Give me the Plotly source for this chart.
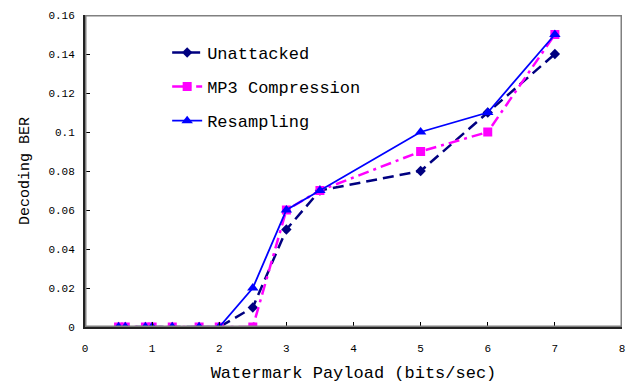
import plotly.graph_objects as go

payload = [0.5, 0.6, 0.9, 1.0, 1.3, 1.7, 2.0, 2.5, 3.0, 3.5, 5.0, 6.0, 7.0]
unattacked = [0, 0, 0, 0, 0, 0, 0, 0.01, 0.05, 0.07, 0.08, 0.11, 0.14]
mp3 = [0, 0, 0, 0, 0, 0, 0, 0.0, 0.06, 0.07, 0.09, 0.10, 0.15]
resampling = [0, 0, 0, 0, 0, 0, 0, 0.02, 0.06, 0.07, 0.10, 0.11, 0.15]

x_ticks = [0, 1, 2, 3, 4, 5, 6, 7, 8]
y_ticks = [0, 0.02, 0.04, 0.06, 0.08, 0.1, 0.12, 0.14, 0.16]
y_labels = ["0", "0.02", "0.04", "0.06", "0.08", "0.1", "0.12", "0.14", "0.16"]

X_RANGE = [0, 8]
Y_RANGE = [0, 0.16]

FONT = "Liberation Mono"

fig = go.Figure()
fig.add_trace(go.Scatter(x=payload, y=unattacked, name="Unattacked", mode="lines+markers",
                         legendgroup="a",
                         line=dict(color="#000080", width=2.5, dash="11px,6px"),
                         marker=dict(symbol="diamond", size=8, color="#000080")))
fig.add_trace(go.Scatter(x=payload, y=mp3, name="MP3 Compression", mode="lines+markers",
                         legendgroup="b",
                         line=dict(color="#FF00FF", width=2.5, dash="11px,5px,3px,5px"),
                         marker=dict(symbol="square", size=9, color="#FF00FF")))
fig.add_trace(go.Scatter(x=payload, y=resampling, name="Resampling", mode="lines+markers",
                         legendgroup="c",
                         line=dict(color="#0000FF", width=1.8),
                         marker=dict(symbol="triangle-up", size=10, color="#0000FF")))

# grey frame around the plot area, in data coordinates
fig.add_shape(type="rect", xref="x", yref="y",
              x0=X_RANGE[0], x1=X_RANGE[1], y0=Y_RANGE[0], y1=Y_RANGE[1],
              line=dict(color="#808080", width=3), fillcolor="rgba(0,0,0,0)",
              layer="above")

fig.update_layout(
    width=629, height=383,
    margin=dict(l=85, r=7, t=15, b=56),
    paper_bgcolor="white", plot_bgcolor="white",
    font=dict(family=FONT, color="black"),
    showlegend=True,
    legend=dict(x=0.153, y=0.936, xanchor="left", yanchor="top",
                bgcolor="rgba(0,0,0,0)", font=dict(family=FONT, size=17),
                tracegroupgap=9),
    xaxis=dict(range=X_RANGE, tickvals=x_ticks, ticks="inside", ticklen=5,
               tickcolor="black", showgrid=False, zeroline=False,
               showline=True, linecolor="#222222", linewidth=2,
               tickfont=dict(family=FONT, size=11), automargin=False,
               ticklabelstandoff=10, layer="above traces",
               title=dict(text="Watermark Payload (bits/sec)", font=dict(family=FONT, size=17))),
    yaxis=dict(range=Y_RANGE, tickvals=y_ticks, ticktext=y_labels, ticks="inside",
               ticklen=5, tickcolor="black", showgrid=False, zeroline=False,
               showline=True, linecolor="#222222", linewidth=2,
               tickfont=dict(family=FONT, size=11), automargin=False,
               ticklabelstandoff=6, layer="above traces",
               title=dict(text="Decoding BER", font=dict(family=FONT, size=15))),
)

fig.write_html("out.html", config={"displayModeBar": False},
               post_script="document.body.style.margin='0px';")
